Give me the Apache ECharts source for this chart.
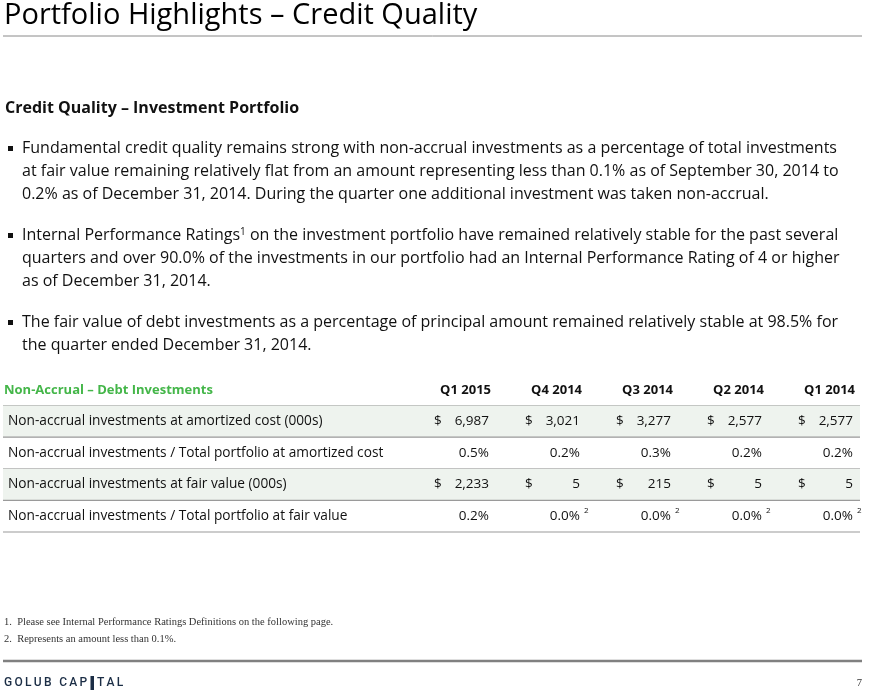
<!DOCTYPE html>
<html>
<head>
<meta charset="UTF-8">
<title>Portfolio Highlights – Credit Quality</title>
<script src="https://cdn.jsdelivr.net/npm/echarts@6/dist/echarts.min.js"></script>
<style>
	html, body { margin: 0; padding: 0; background: #fff; }
	#main { width: 870px; height: 693px; }
</style>
</head>
<body>
<div id="main"></div>
<script>
	// table data
	var tableTitle = 'Non-Accrual – Debt Investments';
	var quarters = ['Q1 2015', 'Q4 2014', 'Q3 2014', 'Q2 2014', 'Q1 2014'];
	var rowLabels = [
		'Non-accrual investments at amortized cost (000s)',
		'Non-accrual investments / Total portfolio at amortized cost',
		'Non-accrual investments at fair value (000s)',
		'Non-accrual investments / Total portfolio at fair value'
	];
	var amortizedCost = [6987, 3021, 3277, 2577, 2577];
	var amortizedPct = [0.5, 0.2, 0.3, 0.2, 0.2];
	var fairValue = [2233, 5, 215, 5, 5];
	var fairPct = [0.2, 0.0, 0.0, 0.0, 0.0];
	var fairPctNote = ['', '2', '2', '2', '2'];

	var SANS = '"Open Sans", "Noto Sans", sans-serif';
	var SERIF = '"Liberation Serif", serif';
	var INK = '#111';

	function fmtNum(v) {
		return v.toString().replace(/\B(?=(\d{3})+(?!\d))/g, ',');
	}

	// cells of the table (header row = 0)
	var cells = [];
	quarters.forEach(function (q, i) {
		cells.push({ value: [i, 0], text: q, head: true });
		cells.push({ value: [i, 1], text: fmtNum(amortizedCost[i]), dollar: true });
		cells.push({ value: [i, 2], text: amortizedPct[i].toFixed(1) + '%' });
		cells.push({ value: [i, 3], text: fmtNum(fairValue[i]), dollar: true });
		cells.push({ value: [i, 4], text: fairPct[i].toFixed(1) + '%', note: fairPctNote[i] });
	});
	var bands = [[0, 0], [0, 1], [0, 2], [0, 3], [0, 4]];

	// bullet text, one entry per printed line
	var bullets = [
		[
			'Fundamental credit quality remains strong with non-accrual investments as a percentage of total investments',
			'at fair value remaining relatively flat from an amount representing less than 0.1% as of September 30, 2014 to',
			'0.2% as of December 31, 2014. During the quarter one additional investment was taken non-accrual.'
		],
		[
			'{t|Internal Performance Ratings}{s|1}{t| on the investment portfolio have remained relatively stable for the past several}',
			'quarters and over 90.0% of the investments in our portfolio had an Internal Performance Rating of 4 or higher',
			'as of December 31, 2014.'
		],
		[
			'The fair value of debt investments as a percentage of principal amount remained relatively stable at 98.5% for',
			'the quarter ended December 31, 2014.'
		]
	];
	var bulletTop = [148, 235, 322];
	var lineGap = 23.4;

	var graphics = [];
	graphics.push({
		type: 'text', x: 4, y: 16,
		style: { text: 'Portfolio Highlights – Credit Quality', font: '29px ' + SANS, fill: '#000', verticalAlign: 'middle' }
	});
	graphics.push({
		type: 'line', shape: { x1: 3, y1: 36, x2: 862, y2: 36 },
		style: { stroke: '#8a8a8a', lineWidth: 1 }
	});
	graphics.push({
		type: 'text', x: 5, y: 108,
		style: { text: 'Credit Quality – Investment Portfolio', font: 'bold 16px ' + SANS, fill: INK, verticalAlign: 'middle' }
	});
	bullets.forEach(function (lines, b) {
		graphics.push({
			type: 'rect', shape: { x: 8, y: bulletTop[b] - 2, width: 5, height: 5 },
			style: { fill: '#111' }
		});
		lines.forEach(function (ln, k) {
			graphics.push({
				type: 'text', x: 22, y: bulletTop[b] + k * lineGap,
				style: {
					text: ln, font: '16px ' + SANS, fill: INK, verticalAlign: 'middle',
					rich: {
						t: { fontSize: 16, fontFamily: SANS, fill: INK },
						s: { fontSize: 10, fontFamily: SANS, fill: INK, verticalAlign: 'top' }
					}
				}
			});
		});
	});
	graphics.push({
		type: 'text', x: 4, y: 622,
		style: { text: '1.  Please see Internal Performance Ratings Definitions on the following page.', font: '10.5px ' + SERIF, fill: '#333', verticalAlign: 'middle' }
	});
	graphics.push({
		type: 'text', x: 4, y: 639,
		style: { text: '2.  Represents an amount less than 0.1%.', font: '10.5px ' + SERIF, fill: '#333', verticalAlign: 'middle' }
	});
	graphics.push({
		type: 'line', shape: { x1: 3, y1: 661, x2: 862, y2: 661 },
		style: { stroke: '#808080', lineWidth: 2.5 }
	});
	graphics.push({
		type: 'text', x: 862, y: 683,
		style: { text: '7', font: '10.5px ' + SERIF, fill: '#333', align: 'right', verticalAlign: 'middle' }
	});

	// logo, letter by letter
	var logo = 'GOLUB CAP|TAL';
	var ctx = document.createElement('canvas').getContext('2d');
	ctx.font = '500 12px Roboto';
	var lx = 4;
	for (var i = 0; i < logo.length; i++) {
		var ch = logo[i];
		if (ch === '|') {
			graphics.push({ type: 'rect', shape: { x: lx + 1, y: 676, width: 3.5, height: 14 }, style: { fill: '#1b2d45' } });
			lx += 7.5;
			continue;
		}
		graphics.push({
			type: 'text', x: lx, y: 683,
			style: { text: ch, font: '500 12px Roboto', fill: '#1b2d45', verticalAlign: 'middle' }
		});
		lx += ctx.measureText(ch).width + 2.3;
	}

	var chart = echarts.init(document.getElementById('main'));
	var option = {
		backgroundColor: '#fff',
		animation: false,
		graphic: graphics,
		grid: { left: 400, right: 15, top: 374, height: 158, containLabel: false, outerBoundsMode: 'none' },
		xAxis: { type: 'category', data: quarters, show: false },
		yAxis: {
			type: 'category', inverse: true, z: 10,
			data: [tableTitle].concat(rowLabels),
			axisLine: { show: false }, axisTick: { show: false }, splitLine: { show: false },
			axisLabel: {
				align: 'left', margin: 396,
				formatter: function (v, idx) {
					return idx === 0 ? '{h|' + v + '}' : '{r|' + v + '}';
				},
				rich: {
					h: { color: '#44b649', fontWeight: 'bold', fontSize: 13, fontFamily: SANS },
					r: { color: INK, fontSize: 13.7, fontFamily: SANS, padding: [0, 0, 0, 4] }
				}
			}
		},
		series: [{
			type: 'custom',
			z: 1,
			silent: true,
			data: bands,
			renderItem: function (params, api) {
				var r = api.value(1);
				var p = api.coord([0, r]);
				var h = api.size([1, 1])[1];
				var top = p[1] - h / 2;
				var kids = [];
				if (r === 1 || r === 3) {
					kids.push({ type: 'rect', shape: { x: 3, y: top, width: 857, height: h }, style: { fill: '#eef3ee' } });
				}
				kids.push({ type: 'line', shape: { x1: 3, y1: top + h, x2: 860, y2: top + h }, style: { stroke: '#9a9a9a', lineWidth: 1.2 } });
				return { type: 'group', children: kids };
			}
		}, {
			type: 'custom',
			z: 3,
			silent: true,
			data: cells,
			renderItem: function (params, api) {
				var d = cells[params.dataIndex];
				var p = api.coord([api.value(0), api.value(1)]);
				var w = api.size([1, 1])[0];
				var right = p[0] + w / 2;
				var left = p[0] - w / 2;
				var kids = [];
				kids.push({
					type: 'text',
					style: {
						x: d.head ? right : right - 2, y: p[1], text: d.text,
						font: (d.head ? 'bold 13px ' : '13.5px ') + SANS,
						fill: INK, align: 'right', verticalAlign: 'middle'
					}
				});
				if (d.dollar) {
					kids.push({ type: 'text', style: { x: left + 34, y: p[1], text: '$', font: '13.5px ' + SANS, fill: INK, align: 'left', verticalAlign: 'middle' } });
				}
				if (d.note) {
					kids.push({ type: 'text', style: { x: right + 2, y: p[1] - 5, text: d.note, font: '8px ' + SANS, fill: INK, align: 'left', verticalAlign: 'middle' } });
				}
				return { type: 'group', children: kids };
			}
		}]
	};
	chart.setOption(option);
</script>
</body>
</html>
